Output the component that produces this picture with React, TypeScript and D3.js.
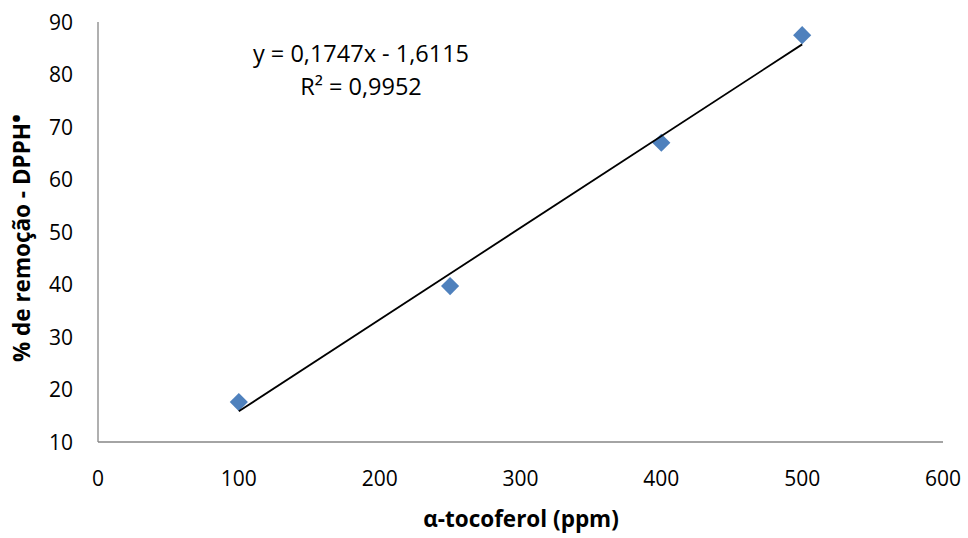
import React from "react";
import * as d3 from "d3";

const xValues = [100, 250, 400, 500];
const yValues = [17.6, 39.7, 67.0, 87.5];
const xTicks = [0, 100, 200, 300, 400, 500, 600];
const yTicks = [10, 20, 30, 40, 50, 60, 70, 80, 90];
const slope = 0.1747;
const intercept = -1.6115;
const eqLabel = "y = 0,1747x - 1,6115";
const r2Label = "R² = 0,9952";
const xTitle = "α-tocoferol (ppm)";
const yTitleMain = "% de remoção - DPPH";
const yTitleSup = "•";

export default function App() {
  const W = 968, H = 538;
  const x = d3.scaleLinear().domain([0, 600]).range([98, 943]);
  const y = d3.scaleLinear().domain([10, 90]).range([442, 22]);
  const font = "'Open Sans', sans-serif";
  const pts = xValues.map((v, i) => [v, yValues[i]]);
  const line = d3.line<number>().x((d) => x(d)).y((d) => y(slope * d + intercept));
  const sym = d3.symbol().type(d3.symbolDiamond2).size(210)();
  return (
    <svg width={W} height={H} style={{ position: "absolute", left: 0, top: 0 }}>
      <rect width={W} height={H} fill="#fff" />
      <line x1={x(0)} x2={x(0)} y1={y(90)} y2={y(10)} stroke="#868686" strokeWidth={1.3} />
      <line x1={x(0)} x2={x(600)} y1={y(10)} y2={y(10)} stroke="#868686" strokeWidth={1.3} />
      {yTicks.map((t) => (
        <text key={t} x={73} y={y(t)} dy="0.36em" textAnchor="end" fontFamily={font} fontSize={21} fill="#000">{t}</text>
      ))}
      {xTicks.map((t) => (
        <text key={t} x={x(t)} y={486} textAnchor="middle" fontFamily={font} fontSize={21} fill="#000">{t}</text>
      ))}
      {pts.map((p, i) => (
        <path key={i} d={sym!} transform={`translate(${x(p[0])},${y(p[1])})`} fill="#4F81BD" />
      ))}
      <path d={line([100, 500])!} stroke="#000" strokeWidth={1.8} fill="none" />
      <text x={361} y={62} textAnchor="middle" fontFamily={font} fontSize={23.5} fill="#000">{eqLabel}</text>
      <text x={361} y={95} textAnchor="middle" fontFamily={font} fontSize={23.5} fill="#000">{r2Label}</text>
      <text x={521} y={527} textAnchor="middle" fontFamily={font} fontSize={22.5} fontWeight="bold" fill="#000">{xTitle}</text>
      <text transform={`translate(30,238) rotate(-90)`} textAnchor="middle" fontFamily={font} fontSize={22.5} fontWeight="bold" fill="#000">
        {yTitleMain}
        <tspan fontSize={24} dy={-5}>{yTitleSup}</tspan>
      </text>
    </svg>
  );
}
